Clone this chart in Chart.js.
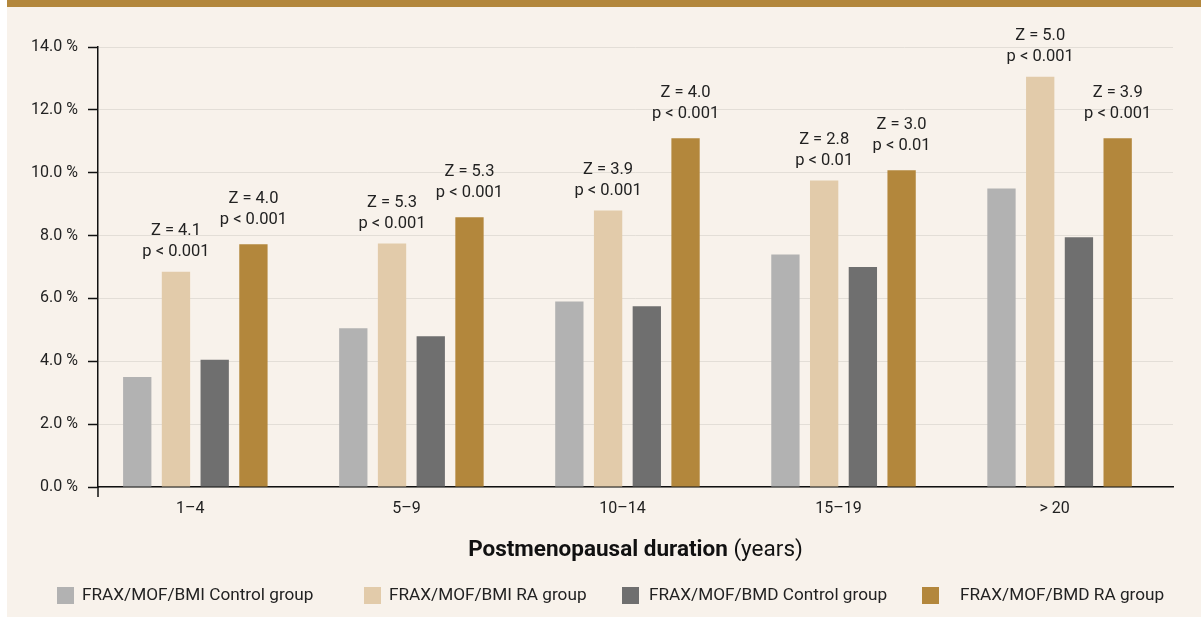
<!DOCTYPE html>
<html>
<head>
<meta charset="utf-8">
<script src="https://cdn.jsdelivr.net/npm/chart.js@4.4.1/dist/chart.umd.min.js"></script>
<style>
  html, body { margin: 0; padding: 0; background: #fff; }
  #wrap { position: relative; width: 1201px; height: 617px; }
  canvas { display: block; }
</style>
</head>
<body>
<div id="wrap"><canvas id="chart" width="1201" height="617"></canvas></div>
<script>
// categories and values
const categories = ['1–4', '5–9', '10–14', '15–19', '> 20'];
const seriesNames = ['FRAX/MOF/BMI Control group', 'FRAX/MOF/BMI RA group', 'FRAX/MOF/BMD Control group', 'FRAX/MOF/BMD RA group'];
const bmiControl = [3.5, 5.05, 5.9, 7.4, 9.5];
const bmiRA = [6.85, 7.75, 8.8, 9.75, 13.05];
const bmdControl = [4.05, 4.8, 5.75, 7.0, 7.95];
const bmdRA = [7.72, 8.58, 11.1, 10.08, 11.1];

// test results shown over the RA bars
const bmiRAz = ['4.1', '5.3', '3.9', '2.8', '5.0'];
const bmiRAp = ['< 0.001', '< 0.001', '< 0.001', '< 0.01', '< 0.001'];
const bmdRAz = ['4.0', '5.3', '4.0', '3.0', '3.9'];
const bmdRAp = ['< 0.001', '< 0.001', '< 0.001', '< 0.01', '< 0.001'];

const yTicks = [0, 2, 4, 6, 8, 10, 12, 14];

const colors = ['#b2b2b2', '#e2cbaa', '#6f6f6f', '#b3873c'];
const FONT = 'Roboto, "Noto Sans", sans-serif';

const toPoints = arr => arr.map((v, i) => ({ x: i, y: v }));

// which datasets get the Z / p labels, and how far above the bar
const notes = {
  1: { z: bmiRAz, p: bmiRAp, gap: 20 },
  3: { z: bmdRAz, p: bmdRAp, gap: 24 }
};

const decor = {
  id: 'decor',
  beforeDraw(chart) {
    const ctx = chart.ctx;
    ctx.save();
    ctx.fillStyle = '#ffffff';
    ctx.fillRect(0, 0, chart.width, chart.height);
    ctx.fillStyle = '#f8f2eb';
    ctx.fillRect(7, 0, chart.width - 7, chart.height);
    ctx.fillStyle = '#b3873c';
    ctx.fillRect(7, 0, chart.width - 7, 7);
    ctx.restore();
  },
  afterDatasetsDraw(chart) {
    const ctx = chart.ctx;
    ctx.save();
    ctx.fillStyle = '#222';
    ctx.font = '16.5px ' + FONT;
    ctx.textAlign = 'center';
    ctx.textBaseline = 'middle';
    Object.keys(notes).forEach(di => {
      const n = notes[di];
      const meta = chart.getDatasetMeta(+di);
      meta.data.forEach((bar, i) => {
        ctx.fillText('Z = ' + n.z[i], bar.x, bar.y - n.gap - 21);
        ctx.fillText('p ' + n.p[i], bar.x, bar.y - n.gap);
      });
    });
    ctx.restore();
  },
  afterDraw(chart) {
    const ctx = chart.ctx;
    const area = chart.chartArea;
    ctx.save();
    // small stub of the y axis below the baseline
    ctx.strokeStyle = '#111';
    ctx.lineWidth = 1.5;
    ctx.beginPath();
    ctx.moveTo(area.left, area.bottom);
    ctx.lineTo(area.left, area.bottom + 10);
    ctx.stroke();

    // axis title, bold part + normal part
    const bold = 'Postmenopausal duration';
    const normal = ' (years)';
    ctx.fillStyle = '#111';
    ctx.textBaseline = 'middle';
    ctx.font = 'bold 22.5px ' + FONT;
    const wb = ctx.measureText(bold).width;
    ctx.font = '22.5px ' + FONT;
    const wn = ctx.measureText(normal).width;
    const cx = (area.left + area.right) / 2;
    let x = cx - (wb + wn) / 2;
    ctx.textAlign = 'left';
    ctx.font = 'bold 22.5px ' + FONT;
    ctx.fillText(bold, x, 550);
    ctx.font = '22.5px ' + FONT;
    ctx.fillText(normal, x + wb, 550);

    // legend
    const boxX = [57, 364, 622, 922];
    const textX = [82, 389, 649, 960];
    ctx.font = '17.2px ' + FONT;
    chart.data.datasets.forEach((ds, i) => {
      ctx.fillStyle = ds.backgroundColor;
      ctx.fillRect(boxX[i], 587, 17, 17);
      ctx.fillStyle = '#222';
      ctx.fillText(ds.label, textX[i], 596);
    });
    ctx.restore();
  }
};

new Chart(document.getElementById('chart'), {
  type: 'bar',
  data: {
    datasets: [
      { label: seriesNames[0], data: toPoints(bmiControl), backgroundColor: colors[0] },
      { label: seriesNames[1], data: toPoints(bmiRA), backgroundColor: colors[1] },
      { label: seriesNames[2], data: toPoints(bmdControl), backgroundColor: colors[2] },
      { label: seriesNames[3], data: toPoints(bmdRA), backgroundColor: colors[3] }
    ]
  },
  options: {
    responsive: false,
    animation: false,
    categoryPercentage: 0.717,
    barPercentage: 0.731,
    layout: { padding: { top: 47, right: 28, left: 0, bottom: 0 } },
    plugins: {
      legend: { display: false },
      tooltip: { enabled: false }
    },
    scales: {
      x: {
        type: 'linear',
        min: -0.4505,
        max: 4.525,
        bounds: 'data',
        offset: false,
        afterFit: s => { s.height = 130; },
        afterBuildTicks: s => { s.ticks = categories.map((c, i) => ({ value: i })); },
        grid: { display: false, drawTicks: false, offset: false },
        border: { display: true, color: '#111', width: 1.5 },
        ticks: {
          maxRotation: 0,
          autoSkip: false,
          padding: 12,
          labelOffset: -5,
          color: '#222',
          font: { family: FONT, size: 16 },
          callback: v => categories[v] !== undefined ? categories[v] : ''
        }
      },
      y: {
        min: 0,
        max: 14,
        afterFit: s => { s.width = 98; },
        afterBuildTicks: s => { s.ticks = yTicks.map(v => ({ value: v })); },
        grid: { color: '#e3ded7', lineWidth: 1, tickLength: 10, tickColor: '#111', tickWidth: 1.5 },
        border: { display: true, color: '#111', width: 1.5 },
        ticks: {
          padding: 10,
          color: '#222',
          font: { family: FONT, size: 16 },
          callback: v => v.toFixed(1) + ' %'
        }
      }
    }
  },
  plugins: [decor]
});
</script>
</body>
</html>
